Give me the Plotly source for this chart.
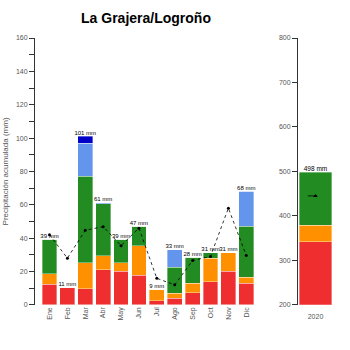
import plotly.graph_objects as go

months = ["Ene","Feb","Mar","Abr","May","Jun","Jul","Ago","Sep","Oct","Nov","Dic"]
red = [12.4,10.6,9.6,21.2,20.2,17.8,2.4,4.1,7.3,13.9,20.2,13.1]
orange = [6.4,0,15.7,8.2,5.1,17.5,7.0,2.9,5.8,14.1,11.0,3.6]
green = [20.6,0,51.7,31.2,14.1,11.7,0,15.4,15.3,3.2,0,30.3]
lightblue = [0,0,20,0.6,0,0,0,10.6,0,0,0,21.2]
darkblue = [0,0,4,0,0,0,0,0,0,0,0,0]
mean_month = [42,28,44.7,46.9,35.5,46,15.9,12,26.6,29,58,29.6]

year = ["2020"]
year_red = [341.7]
year_orange = [36.8]
year_green = [119.5]
year_mean = [445]

colors = {"red": "#EF2F2F", "orange": "#FF9100", "green": "#228B22",
          "lightblue": "#6495ED", "darkblue": "#0000C8"}

FONT = "Liberation Sans, Arial, sans-serif"
fig = go.Figure()
xi = list(range(len(months)))
edge = dict(width=0.6, color="rgba(255,255,255,0.6)")
for name, vals in [("red", red), ("orange", orange), ("green", green),
                   ("lightblue", lightblue), ("darkblue", darkblue)]:
    fig.add_trace(go.Bar(x=xi, y=vals, marker=dict(color=colors[name], line=edge),
                         width=0.83, xaxis="x", yaxis="y", showlegend=False))

totals = [r+o+g+l+d for r, o, g, l, d in zip(red, orange, green, lightblue, darkblue)]
fig.add_trace(go.Scatter(x=xi, y=mean_month, mode="lines+markers",
                         line=dict(color="black", width=0.8, dash="dot"),
                         marker=dict(size=3, color="black"),
                         xaxis="x", yaxis="y", showlegend=False))
fig.add_trace(go.Scatter(x=xi, y=totals, mode="text",
                         text=[f"{round(t)} mm" for t in totals],
                         textposition="top center",
                         textfont=dict(size=6, color="black", family=FONT),
                         xaxis="x", yaxis="y", showlegend=False))

for name, vals in [("red", year_red), ("orange", year_orange), ("green", year_green)]:
    fig.add_trace(go.Bar(x=[0], y=vals, marker=dict(color=colors[name], line=edge),
                         width=0.92, xaxis="x2", yaxis="y2", showlegend=False))
ytot = year_red[0] + year_orange[0] + year_green[0]
fig.add_trace(go.Scatter(x=[-0.22, 0.22], y=year_mean*2, mode="lines",
                         line=dict(color="black", width=0.8, dash="dash"),
                         xaxis="x2", yaxis="y2", showlegend=False))
fig.add_trace(go.Scatter(x=[0], y=year_mean, mode="markers",
                         marker=dict(size=4, color="black", symbol="triangle-up"),
                         xaxis="x2", yaxis="y2", showlegend=False))
fig.add_trace(go.Scatter(x=[0], y=[ytot], mode="text",
                         text=[f"{round(ytot)} mm"], textposition="top center",
                         textfont=dict(size=6.5, color="black", family=FONT),
                         xaxis="x2", yaxis="y2", showlegend=False))

W = H = 350
tickfont = dict(size=7, color="#555", family=FONT)
fig.update_layout(
    width=W, height=H, margin=dict(l=0, r=0, t=0, b=0),
    paper_bgcolor="white", plot_bgcolor="white", barmode="stack",
    font=dict(family=FONT),
    title=dict(text="La Grajera/Logroño", x=146/W, y=1-18/H, xanchor="center", yanchor="middle",
               font=dict(size=14, color="black", family=FONT, weight="bold")),
    xaxis=dict(domain=[35/W, 257/W], range=[-0.81, 11.6], tickvals=xi, ticktext=months,
               tickangle=-90, showline=False, showgrid=False, zeroline=False, ticks="",
               tickfont=tickfont),
    yaxis=dict(domain=[1-307/H, 1-34.7/H], range=[0, 160], anchor="x",
               tickvals=list(range(0, 161, 10)),
               ticktext=[str(v) if v % 20 == 0 else "" for v in range(0, 161, 10)],
               ticks="outside", ticklen=5, tickcolor="#333", showline=True, linecolor="#333",
               linewidth=1, showgrid=False, zeroline=False, tickfont=tickfont,
               title=dict(text="Precipitación acumulada (mm)", font=dict(size=8, color="#555", family=FONT),
                          standoff=6)),
    xaxis2=dict(domain=[298/W, 333/W], range=[-0.5, 0.5], tickvals=[0], ticktext=year,
                showline=False, showgrid=False, zeroline=False, ticks="", tickfont=tickfont,
                ticklabelstandoff=6, anchor="y2"),
    yaxis2=dict(domain=[1-307/H, 1-34.7/H], range=[200, 800], anchor="x2",
                tickvals=list(range(200, 801, 100)), ticks="outside", ticklen=5, tickcolor="#333",
                showline=True, linecolor="#333", linewidth=1, showgrid=False, zeroline=False,
                tickfont=tickfont),
)
fig.write_html("out.html")
